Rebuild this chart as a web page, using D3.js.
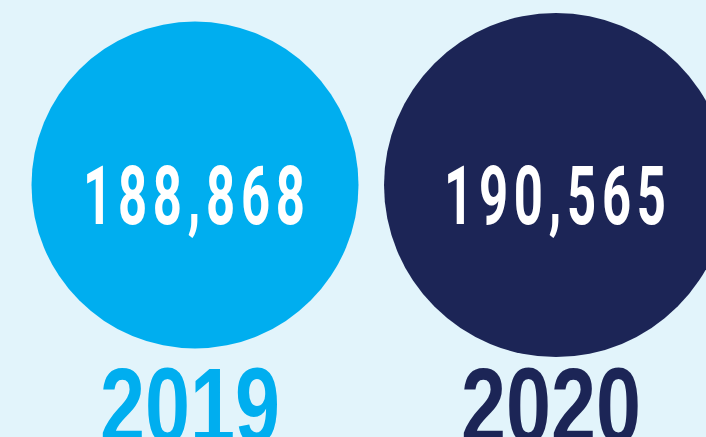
<!DOCTYPE html>
<html lang="en">
<head>
    <meta charset="UTF-8">
    <title>Visitors 2019 vs 2020</title>
    <script src="https://d3js.org/d3.v7.min.js"></script>
</head>
<style>
    body { margin: 0; background: #e2f4fb; }
    svg { display: block; }
</style>
<body>
    <div id="chart"></div>
</body>
<script>
    // data
    const years = ["2019", "2020"];
    const totals = [188868, 190565];
    const colors = ["#00aeef", "#1c2556"];

    const width = 706, height = 437;

    const svg = d3.select("#chart")
        .append("svg")
        .attr("width", width)
        .attr("height", height);

    svg.append("rect")
        .attr("width", width)
        .attr("height", height)
        .attr("fill", "#e2f4fb");

    const data = years.map((y, i) => ({ year: y, value: totals[i], color: colors[i] }));

    // circle centres along x
    const x = d3.scalePoint()
        .domain(years)
        .range([195, 556]);

    // radius from value (the bigger year gets the bigger circle)
    const r = d3.scaleLinear()
        .domain(d3.extent(totals))
        .range([163.5, 172]);

    const cy = 185;
    const squeeze = 0.62; // condensed look for the numbers

    const g = svg.selectAll(".bubble")
        .data(data)
        .enter()
        .append("g")
        .attr("class", "bubble");

    g.append("circle")
        .attr("cx", d => x(d.year))
        .attr("cy", cy)
        .attr("r", d => r(d.value))
        .attr("fill", d => d.color);

    // value inside the circle
    g.append("text")
        .attr("transform", d => `translate(${x(d.year) - 1}, 224) scale(${squeeze}, 1)`)
        .attr("text-anchor", "middle")
        .attr("fill", "#ffffff")
        .style("font-family", "Roboto, 'Liberation Sans', sans-serif")
        .style("font-weight", 700)
        .style("font-size", "82px")
        .attr("textLength", 222 / squeeze)
        .attr("lengthAdjust", "spacing")
        .text(d => d3.format(",")(d.value));

    // year label under the circle
    g.append("text")
        .attr("x", d => x(d.year) - 5)
        .attr("y", 443)
        .attr("text-anchor", "middle")
        .attr("fill", d => d.color)
        .style("font-family", "'Liberation Sans', Arial, sans-serif")
        .style("font-weight", 700)
        .style("font-size", "108px")
        .attr("textLength", 180)
        .attr("lengthAdjust", "spacingAndGlyphs")
        .text(d => d.year);
</script>
</html>
